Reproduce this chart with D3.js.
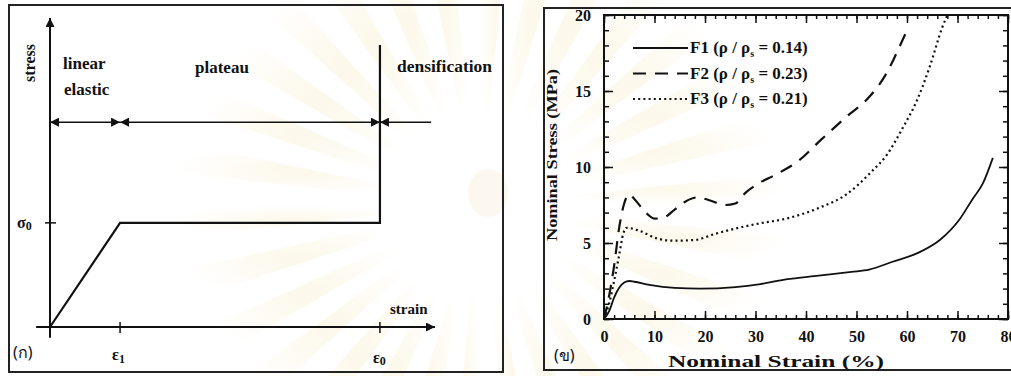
<!DOCTYPE html>
<html>
<head>
<meta charset="utf-8">
<script src="https://cdn.jsdelivr.net/npm/d3@7"></script>
<style>
  html, body { margin: 0; padding: 0; background: #fff; }
  svg { display: block; }
  text { font-family: "Liberation Serif", "DejaVu Serif", serif; font-weight: bold; fill: #111; }
</style>
</head>
<body>
<svg id="chart" width="1011" height="376"></svg>
<script>
// ---- schematic (left) values, in relative units
var schemCurve = [[0, 0], [0.182, 0.337], [0.857, 0.337], [0.857, 0.913]];
var schemMarks = {eps1: 0.182, eps0: 0.857, sigma0: 0.337, dimY: 0.663, dimEnd: 0.99};

// ---- measured curves (right): [strain %, stress MPa]
var curveF1 = [[0, 0], [1, 0.5], [2, 1.4], [3, 2.05], [4, 2.4], [5, 2.5], [6, 2.45], [9, 2.25], [14, 2.05],
  [19, 2.0], [26, 2.1], [31, 2.3], [36, 2.6], [42.5, 2.85], [49, 3.1], [52.5, 3.25], [57, 3.75],
  [62.5, 4.4], [66.5, 5.2], [70.5, 6.6], [73, 7.9], [75, 8.9], [77, 10.6]];
var curveF2 = [[0, 0], [1, 1.5], [2, 3.5], [3, 6], [4, 7.6], [5, 8.2], [6, 7.9], [8, 7.1], [10, 6.6],
  [12, 6.7], [14, 7.2], [16, 7.7], [18.5, 8.0], [21, 7.8], [24, 7.5], [26, 7.6], [28, 8.3],
  [30.5, 8.9], [34, 9.5], [38.5, 10.4], [43, 11.8], [48, 13.3], [52.5, 14.6], [56, 16.2],
  [58.5, 17.9], [60, 19]];
var curveF3 = [[0, 0], [1, 1], [2, 2.5], [3, 4.2], [3.8, 5.6], [4.5, 6.0], [7, 5.8], [10.5, 5.3],
  [14, 5.15], [18, 5.2], [22, 5.6], [26, 5.95], [31, 6.3], [36, 6.6], [42.5, 7.3], [48, 8.2],
  [53, 9.7], [56, 10.8], [59.2, 12.6], [62, 14.4], [64.5, 16.6], [67, 19.2], [68, 20]];

var legendLabels = ['F1', 'F2', 'F3'];
var legendRatios = ['0.14', '0.23', '0.21'];
var seriesDash = [null, '13,9', '2,3.2'];
var xMajor = [0, 10, 20, 30, 40, 50, 60, 70, 80];
var yMajor = [0, 5, 10, 15, 20];

var svg = d3.select('#chart');

// faint watermark rays behind everything
var defs = svg.append('defs');
var grad = defs.append('radialGradient').attr('id', 'wm').attr('cx', 0.5).attr('cy', 0.5).attr('r', 0.5);
grad.append('stop').attr('offset', '0.15').attr('stop-color', '#f1dfa0').attr('stop-opacity', 0.2);
grad.append('stop').attr('offset', '1').attr('stop-color', '#f1dfa0').attr('stop-opacity', 0);
var wm = svg.append('g').attr('transform', 'translate(480,205)');
var rays = d3.range(0, 30);
wm.selectAll('path').data(rays).enter().append('path')
  .attr('d', d3.arc().innerRadius(60).outerRadius(310)
    .startAngle(function(d) { return d * Math.PI * 2 / 30; })
    .endAngle(function(d) { return d * Math.PI * 2 / 30 + 0.1; }))
  .attr('fill', 'url(#wm)');
wm.append('ellipse').attr('cx', 8).attr('cy', -12).attr('rx', 20).attr('ry', 24)
  .attr('fill', '#f6ecd0').attr('opacity', 0.35);

// panel frames
svg.append('rect').attr('x', 9).attr('y', 5).attr('width', 494).attr('height', 367)
  .attr('fill', 'none').attr('stroke', '#222').attr('stroke-width', 2);
svg.append('rect').attr('x', 544).attr('y', 8).attr('width', 480).attr('height', 362)
  .attr('fill', 'none').attr('stroke', '#222').attr('stroke-width', 2);

// arrow markers
function addMarker(id, orient) {
  defs.append('marker').attr('id', id).attr('viewBox', '0 0 10 10')
    .attr('refX', 10).attr('refY', 5).attr('markerWidth', 10).attr('markerHeight', 9)
    .attr('markerUnits', 'userSpaceOnUse').attr('orient', orient)
    .append('path').attr('d', 'M0,0 L10,5 L0,10 Z').attr('fill', '#111');
}
addMarker('arrEnd', 'auto');
addMarker('arrStart', 'auto-start-reverse');

// ---------------- left: schematic
var sx = d3.scaleLinear().domain([0, 1]).range([50, 435]);
var sy = d3.scaleLinear().domain([0, 1]).range([327, 18]);
var left = svg.append('g');

left.append('line').attr('x1', sx(0)).attr('x2', sx(0)).attr('y1', sy(-0.035)).attr('y2', sy(1))
  .attr('stroke', '#111').attr('stroke-width', 2).attr('marker-end', 'url(#arrEnd)');
left.append('line').attr('x1', sx(-0.036)).attr('x2', sx(1)).attr('y1', sy(0)).attr('y2', sy(0))
  .attr('stroke', '#111').attr('stroke-width', 2).attr('marker-end', 'url(#arrEnd)');

// ticks
left.append('line').attr('x1', sx(0) - 5).attr('x2', sx(0) + 6)
  .attr('y1', sy(schemMarks.sigma0)).attr('y2', sy(schemMarks.sigma0)).attr('stroke', '#111').attr('stroke-width', 1.5);
[schemMarks.eps1, schemMarks.eps0].forEach(function(e) {
  left.append('line').attr('x1', sx(e)).attr('x2', sx(e)).attr('y1', sy(0) - 5).attr('y2', sy(0) + 6)
    .attr('stroke', '#111').attr('stroke-width', 1.5);
});

left.append('path').datum(schemCurve)
  .attr('d', d3.line().x(function(d) { return sx(d[0]); }).y(function(d) { return sy(d[1]); }))
  .attr('fill', 'none').attr('stroke', '#111').attr('stroke-width', 2.2);

// dimension arrows
var dimSegs = [[0, schemMarks.eps1, true], [schemMarks.eps1, schemMarks.eps0, true], [schemMarks.eps0, schemMarks.dimEnd, false]];
dimSegs.forEach(function(s) {
  left.append('line').attr('x1', sx(s[0])).attr('x2', sx(s[1]))
    .attr('y1', sy(schemMarks.dimY)).attr('y2', sy(schemMarks.dimY))
    .attr('stroke', '#111').attr('stroke-width', 1.5)
    .attr('marker-start', 'url(#arrStart)')
    .attr('marker-end', s[2] ? 'url(#arrEnd)' : null);
});

left.append('text').attr('transform', 'translate(35,63) rotate(-90)').attr('text-anchor', 'middle')
  .style('font-size', '16px').text('stress');
left.append('text').attr('x', 63).attr('y', 69).style('font-size', '17px').text('linear');
left.append('text').attr('x', 64).attr('y', 95).style('font-size', '17px').text('elastic');
left.append('text').attr('x', 195).attr('y', 73).style('font-size', '17px').text('plateau');
left.append('text').attr('x', 397).attr('y', 72).attr('textLength', 95).attr('lengthAdjust', 'spacingAndGlyphs')
  .style('font-size', '17px').text('densification');
left.append('text').attr('x', 390).attr('y', 314).style('font-size', '15px').text('strain');

var sig = left.append('text').attr('x', 17).attr('y', 228).style('font-size', '16px');
sig.append('tspan').text('\u03c3');
sig.append('tspan').attr('dy', 2).style('font-size', '12px').text('0');
var e1 = left.append('text').attr('x', sx(schemMarks.eps1) - 8).attr('y', 360).style('font-size', '16px');
e1.append('tspan').text('\u03b5');
e1.append('tspan').attr('dy', 3).style('font-size', '12px').text('1');
var e0 = left.append('text').attr('x', sx(schemMarks.eps0) - 7).attr('y', 363).style('font-size', '16px');
e0.append('tspan').text('\u03b5');
e0.append('tspan').attr('dy', 2).style('font-size', '12px').text('0');

left.append('text').attr('x', 13).attr('y', 358).style('font-weight', 'normal')
  .style('font-family', '"Noto Sans", "DejaVu Sans", sans-serif').style('font-size', '16px').text('(\u0e01)');

// ---------------- right: measured curves
var x = d3.scaleLinear().domain([0, 80]).range([604, 1008]);
var y = d3.scaleLinear().domain([0, 20]).range([319, 15]);
var right = svg.append('g');

right.append('rect').attr('x', x(0)).attr('y', y(20)).attr('width', x(80) - x(0)).attr('height', y(0) - y(20))
  .attr('fill', 'none').attr('stroke', '#111').attr('stroke-width', 2);

function styleAxis(g) {
  g.select('.domain').remove();
  g.selectAll('line').attr('stroke', '#111').attr('stroke-width', 1.5);
  g.selectAll('text').attr('fill', '#111').style('font-size', '16px')
    .style('font-family', '"Liberation Serif", serif').style('font-weight', 'bold');
}
var xMinor = d3.range(0, 81, 2);
var yMinor = d3.range(0, 21, 1);

right.append('g').attr('transform', 'translate(0,' + y(0) + ')')
  .call(d3.axisBottom(x).tickValues(xMinor).tickSize(-4).tickFormat('')).call(styleAxis);
right.append('g').attr('transform', 'translate(0,' + y(0) + ')')
  .call(d3.axisBottom(x).tickValues(xMajor).tickSize(-8).tickPadding(12).tickFormat(d3.format('d'))).call(styleAxis);
right.append('g').attr('transform', 'translate(0,' + y(20) + ')')
  .call(d3.axisTop(x).tickValues(xMinor).tickSize(-4).tickFormat('')).call(styleAxis);
right.append('g').attr('transform', 'translate(0,' + y(20) + ')')
  .call(d3.axisTop(x).tickValues(xMajor).tickSize(-8).tickFormat('')).call(styleAxis);
right.append('g').attr('transform', 'translate(' + x(0) + ',0)')
  .call(d3.axisLeft(y).tickValues(yMinor).tickSize(-5).tickFormat('')).call(styleAxis);
right.append('g').attr('transform', 'translate(' + x(0) + ',0)')
  .call(d3.axisLeft(y).tickValues(yMajor).tickSize(-9).tickPadding(13).tickFormat(d3.format('d'))).call(styleAxis);
right.append('g').attr('transform', 'translate(' + x(80) + ',0)')
  .call(d3.axisRight(y).tickValues(yMinor).tickSize(-5).tickFormat('')).call(styleAxis);
right.append('g').attr('transform', 'translate(' + x(80) + ',0)')
  .call(d3.axisRight(y).tickValues(yMajor).tickSize(-9).tickFormat('')).call(styleAxis);

var line = d3.line().x(function(d) { return x(d[0]); }).y(function(d) { return y(d[1]); })
  .curve(d3.curveMonotoneX);
[curveF1, curveF2, curveF3].forEach(function(c, i) {
  right.append('path').datum(c).attr('d', line)
    .attr('fill', 'none').attr('stroke', '#111')
    .attr('stroke-width', i === 0 ? 1.8 : 2.2)
    .attr('stroke-dasharray', seriesDash[i]);
});

// legend
legendLabels.forEach(function(lab, i) {
  var ly = 48 + i * 25.5;
  right.append('line').attr('x1', 633).attr('x2', 688).attr('y1', ly).attr('y2', ly)
    .attr('stroke', '#111').attr('stroke-width', i === 0 ? 1.8 : 2.2)
    .attr('stroke-dasharray', seriesDash[i]);
  var t = right.append('text').attr('x', 690).attr('y', ly + 5).style('font-size', '17px');
  t.append('tspan').text(lab + ' (\u03c1 / \u03c1');
  t.append('tspan').attr('dy', 4).style('font-size', '10px').text('s');
  t.append('tspan').attr('dy', -4).text(' = ' + legendRatios[i] + ')');
});

right.append('text').attr('transform', 'translate(557,155) rotate(-90)').attr('text-anchor', 'middle')
  .attr('textLength', 172).attr('lengthAdjust', 'spacingAndGlyphs').style('font-size', '15px')
  .text('Nominal  Stress  (MPa)');
right.append('text').attr('x', 776).attr('y', 367).attr('text-anchor', 'middle')
  .attr('textLength', 216).attr('lengthAdjust', 'spacingAndGlyphs').style('font-size', '16px')
  .text('Nominal Strain (%)');
right.append('text').attr('x', 554).attr('y', 361).style('font-weight', 'normal')
  .style('font-family', '"Noto Sans", "DejaVu Sans", sans-serif').style('font-size', '16px').text('(\u0e02)');
</script>
</body>
</html>
